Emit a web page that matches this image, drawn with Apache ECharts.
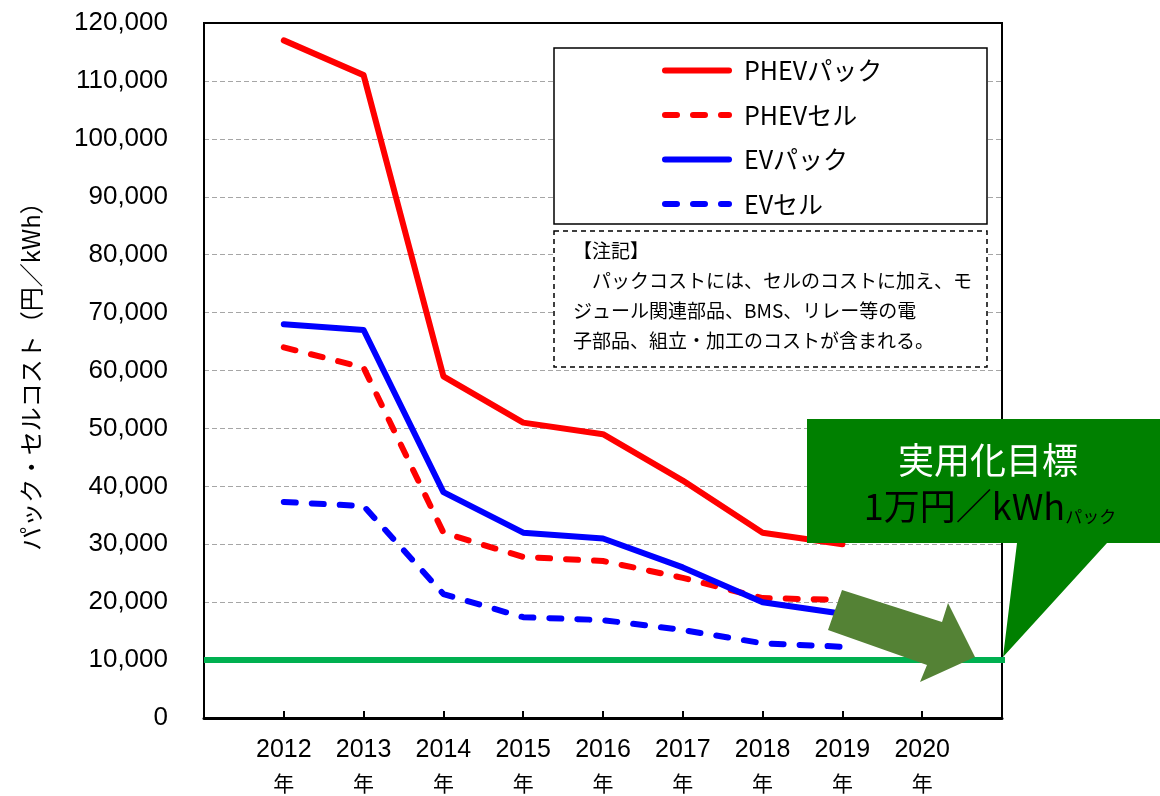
<!DOCTYPE html>
<html><head><meta charset="utf-8">
<script src="https://cdn.jsdelivr.net/npm/echarts@6/dist/echarts.min.js"></script>
<style>html,body{margin:0;padding:0;background:#fff}#c{width:1160px;height:796px}</style>
</head><body><div id="c"></div>
<script>
const years = [2012, 2013, 2014, 2015, 2016, 2017, 2018, 2019];
const axisYears = [2012, 2013, 2014, 2015, 2016, 2017, 2018, 2019, 2020];
const phevPack = [117000, 111000, 59000, 51000, 49000, 41000, 32000, 30000];
const phevCell = [64000, 60500, 32000, 27800, 27100, 24200, 20700, 20400];
const evPack = [68000, 67000, 39000, 32000, 31000, 26000, 20000, 18000];
const evCell = [37300, 36600, 21400, 17400, 16900, 15200, 12900, 12300];
const targetYears = [2011, 2021.05];
const targetValue = 10000;
const names = ['PHEVパック', 'PHEVセル', 'EVパック', 'EVセル'];

const jp = '"Noto Sans CJK JP", "Noto Sans", sans-serif';
const pair = arr => arr.map((v, i) => [years[i], v]);
const dash = [12, 16];

function lineSeries(name, data, color, dashed) {
  return {
    name, type: 'line', data: pair(data), symbol: 'none', z: 3,
    lineStyle: { color, width: 6, type: dashed ? dash : 'solid', cap: 'round', join: 'round' },
    itemStyle: { color }
  };
}

const chart = echarts.init(document.getElementById('c'), null, { renderer: 'canvas' });
chart.setOption({
  animation: false,
  grid: { left: 204, right: 158, top: 23, bottom: 78, containLabel: false, outerBoundsMode: 'none',
    show: true, borderColor: '#000', borderWidth: 2, backgroundColor: 'transparent' },
  xAxis: [{
    type: 'value', min: 2011, max: 2021, interval: 1,
    axisLine: { show: true, lineStyle: { color: '#000', width: 3 } },
    axisTick: { show: true, inside: true, length: 7, lineStyle: { color: '#000', width: 2 } },
    splitLine: { show: false },
    axisLabel: {
      margin: 16, color: '#000', fontSize: 25, lineHeight: 33,
      fontFamily: '"Liberation Sans", Arial, sans-serif',
      formatter: v => axisYears.indexOf(v) >= 0 ? v + '\n{n|年}' : '',
      rich: { n: { fontFamily: jp, fontSize: 21, lineHeight: 33, color: '#000' } }
    }
  }, {
    type: 'value', position: 'top', min: 2011, max: 2021, z: 5,
    axisLine: { show: true, onZero: false, lineStyle: { color: '#000', width: 2 } },
    axisTick: { show: false }, axisLabel: { show: false }, splitLine: { show: false }
  }],
  yAxis: {
    type: 'value', min: 0, max: 120000, interval: 10000,
    name: 'パック・セルコスト（円／kWh）', nameLocation: 'middle', nameGap: 161,
    nameTextStyle: { fontFamily: jp, fontSize: 24, color: '#000' },
    axisLine: { show: true, lineStyle: { color: '#000', width: 2 } },
    axisTick: { show: false },
    splitLine: { show: true, lineStyle: { color: '#a6a6a6', width: 1, type: [5, 3] } },
    axisLabel: {
      margin: 36, color: '#000', fontSize: 26, fontFamily: '"Liberation Sans", Arial, sans-serif',
      formatter: v => v.toString().replace(/\B(?=(\d{3})+(?!\d))/g, ',')
    }
  },
  legend: {
    data: names, orient: 'vertical', left: 657, top: 53,
    itemWidth: 64, itemHeight: 24, itemGap: 19.5,
    itemStyle: { opacity: 0 },
    lineStyle: { width: 6, cap: 'round' },
    textStyle: { fontFamily: jp, fontSize: 25, color: '#000', lineHeight: 24, padding: [0, 0, 0, 10] },
    z: 20
  },
  series: [
    {
      name: 'target', type: 'line', symbol: 'none', z: 2, clip: false,
      data: targetYears.map(y => [y, targetValue]),
      lineStyle: { color: '#00B050', width: 6 }
    },
    lineSeries(names[0], phevPack, '#FF0000', false),
    lineSeries(names[1], phevCell, '#FF0000', true),
    lineSeries(names[2], evPack, '#0000FF', false),
    lineSeries(names[3], evCell, '#0000FF', true)
  ],
  graphic: [
    { type: 'rect', z: 10, shape: { x: 554, y: 48, width: 433, height: 176 },
      style: { fill: '#fff', stroke: '#000', lineWidth: 1.5 } },
    { type: 'rect', z: 10, shape: { x: 554, y: 231, width: 433, height: 136 },
      style: { fill: '#fff', stroke: '#000', lineWidth: 1.5, lineDash: [5, 4] } },
    { type: 'text', z: 11, left: 573, top: 236,
      style: { text: '【注記】\n　パックコストには、セルのコストに加え、モ\nジュール関連部品、BMS、リレー等の電\n子部品、組立・加工のコストが含まれる。',
        font: '19px ' + jp, fill: '#000', lineHeight: 30 } },
    { type: 'polygon', z: 12, shape: { points: [[842, 590], [942, 622], [948, 603], [975, 657], [920, 682], [927, 665], [828, 630]] },
      style: { fill: '#548235' } },
    { type: 'polygon', z: 13, shape: { points: [[807, 419], [1160, 419], [1160, 543], [1107, 543], [1003, 657], [1017, 543], [807, 543]] },
      style: { fill: '#008000' } },
    { type: 'text', z: 14, x: 988, y: 460,
      style: { text: '実用化目標', font: '36px ' + jp, fill: '#fff', align: 'center', verticalAlign: 'middle' } },
    { type: 'text', z: 14, x: 990, y: 506,
      style: { text: '{a|1万円／kWh}{b|パック}', align: 'center', verticalAlign: 'middle',
        rich: { a: { font: '36px ' + jp, color: '#fff' }, b: { font: '17px ' + jp, color: '#fff', padding: [22, 0, 0, 0] } } } }
  ]
});
</script></body></html>
